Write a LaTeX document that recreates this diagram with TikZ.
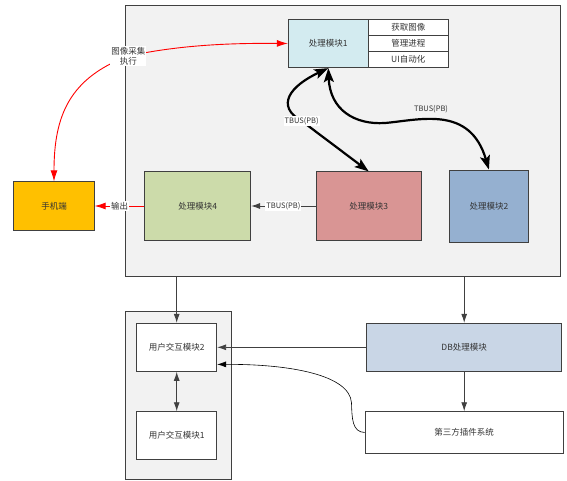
\documentclass[tikz,border=0pt]{standalone}
\usepackage{fontspec}
\newfontfamily\cjkfont{Noto Sans CJK SC}
\usetikzlibrary{arrows.meta,calc}
\definecolor{linec}{HTML}{404040}
\definecolor{txtc}{HTML}{333333}
\definecolor{contc}{HTML}{F2F2F2}
\definecolor{mAc}{HTML}{D3EBF0}
\definecolor{mBc}{HTML}{95B0D0}
\definecolor{mCc}{HTML}{D99594}
\definecolor{mDc}{HTML}{CCDBAA}
\definecolor{phonec}{HTML}{FFC000}
\definecolor{dbc}{HTML}{C9D6E6}
\begin{document}
\begin{tikzpicture}[x=1pt,y=-1pt,
  cont/.style={draw=linec, fill=contc, line width=1pt, inner sep=0pt},
  box/.style={draw=linec, line width=0.9pt, inner sep=0pt, text=txtc,
    font=\cjkfont\fontsize{8.5}{10}\selectfont},
  lab/.style={fill=white, inner sep=1pt, text=txtc,
    font=\cjkfont\fontsize{8.5}{10}\selectfont},
  tlab/.style={inner sep=1pt, text=txtc,
    font=\cjkfont\fontsize{7.5}{9}\selectfont},
  garr/.style={draw=linec, line width=0.9pt, -{Latex[length=9pt,width=6pt]}},
  gboth/.style={draw=linec, line width=0.9pt, {Latex[length=9pt,width=6pt]}-{Latex[length=9pt,width=6pt]}},
  thinarr/.style={draw=black, line width=0.6pt, -{Latex[length=9pt,width=6pt]}},
  rarr/.style={draw=red, line width=0.9pt, -{Latex[length=11pt,width=7pt]}},
  rboth/.style={draw=red, line width=0.9pt, {Latex[length=11pt,width=7pt]}-{Latex[length=11pt,width=7pt]}},
  tbus/.style={draw=black, line width=2.2pt, {Stealth[length=14pt,width=10pt,inset=3pt]}-{Stealth[length=14pt,width=10pt,inset=3pt]}}
]
\useasboundingbox[fill=white] (0,0) rectangle (567,481);
% containers
\node[cont, minimum width=434.5pt, minimum height=270pt] (bigc) at (342.75,141) {};
\node[cont, minimum width=105.3pt, minimum height=168pt] (leftc) at (178.35,395) {};
% modules
\node[box, fill=mAc, minimum width=80pt, minimum height=48.4pt] (m1) at (328.3,43.5) {处理模块1};
\node[box, fill=white, minimum width=80pt, minimum height=16.1pt] (t1) at (408.3,27.35) {获取图像};
\node[box, fill=white, minimum width=80pt, minimum height=16.1pt] (t2) at (408.3,43.5) {管理进程};
\node[box, fill=white, minimum width=80pt, minimum height=16.1pt] (t3) at (408.3,59.6) {UI自动化};
\node[box, fill=phonec, minimum width=80.4pt, minimum height=48.3pt] (phone) at (54,206) {手机端};
\node[box, fill=mDc, minimum width=105.7pt, minimum height=68.3pt] (m4) at (197.75,206) {处理模块4};
\node[box, fill=mCc, minimum width=105pt, minimum height=68.3pt] (m3) at (368.7,206) {处理模块3};
\node[box, fill=mBc, minimum width=79.8pt, minimum height=72pt] (m2) at (488.9,206) {处理模块2};
\node[box, fill=white, minimum width=80pt, minimum height=48pt] (ui2) at (176.7,347.3) {用户交互模块2};
\node[box, fill=white, minimum width=80pt, minimum height=48pt] (ui1) at (176.7,435.7) {用户交互模块1};
\node[box, fill=dbc, minimum width=195pt, minimum height=48pt] (db) at (464.2,347.3) {DB处理模块};
\node[box, fill=white, minimum width=198.3pt, minimum height=41.6pt] (third) at (464.2,432.5) {第三方插件系统};
% lower connectors
\draw[garr] (bigc.south -| ui2.north) -- (ui2.north);
\draw[garr] (bigc.south -| db.north) -- (db.north);
\draw[garr] (db.west) -- (ui2.east);
\draw[garr] (db.south) -- (third.north);
\draw[gboth] (ui2.south) -- (ui1.north);
\coordinate (ui2in) at ($(ui2.north east)!0.85!(ui2.south east)$);
\draw[thinarr] (third.west) .. controls (352,432) and (352,418) .. (351.5,403)
  .. controls (350,375) and (290,364) .. (ui2in);
% red connectors
\draw[rboth] (phone.north) .. controls (54,115) and (70,78) .. (128.3,56)
  node[lab, align=center] (lblA) {图像采集\\执行}
  .. controls (180,45) and (230,43) .. (m1.west);
\draw[rarr] (m4.west) -- node[lab] (lblB) {输出} (phone.east);
% TBUS connectors
\draw[garr] (m3.west) -- node[lab, font=\cjkfont\fontsize{7.5}{9}\selectfont] (lblC) {TBUS(PB)} (m4.east);
\draw[tbus] (m1.south) .. controls (290,86) and (275,106) .. (301.7,121)
  node[lab, font=\cjkfont\fontsize{7.5}{9}\selectfont] (lblD) {TBUS(PB)} -- (m3.north);
\draw[tbus] (m1.south) .. controls (330,110) and (355,125) .. (385,123)
  .. controls (420,120) and (470,105) .. (m2.north);
\node[tlab] (lblE) at (431,109) {TBUS(PB)};
\end{tikzpicture}
\end{document}
